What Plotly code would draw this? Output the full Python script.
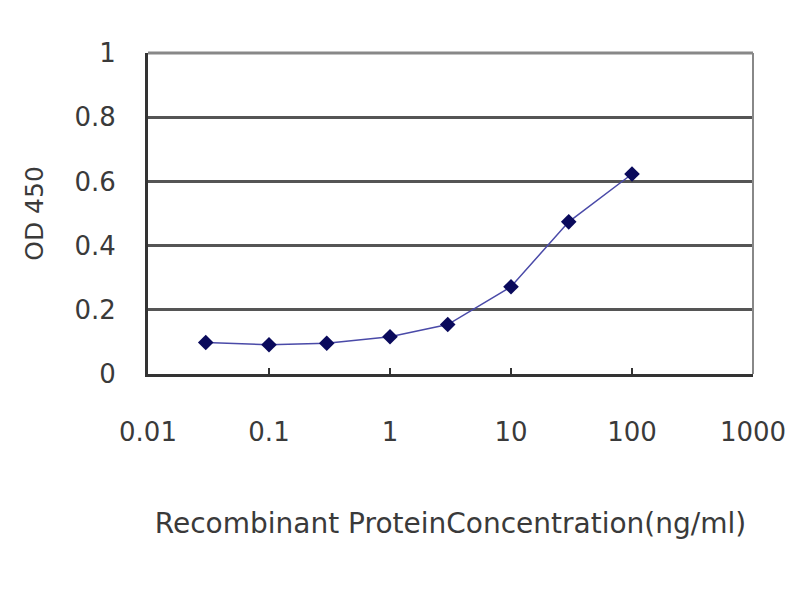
import plotly.graph_objects as go

concentration = [0.03, 0.1, 0.3, 1, 3, 10, 30, 100]
od450 = [0.098, 0.091, 0.096, 0.116, 0.154, 0.272, 0.474, 0.623]
x_ticks = [0.01, 0.1, 1, 10, 100, 1000]
x_tick_labels = ["0.01", "0.1", "1", "10", "100", "1000"]
y_ticks = [0, 0.2, 0.4, 0.6, 0.8, 1]
y_tick_labels = ["0", "0.2", "0.4", "0.6", "0.8", "1"]

fig = go.Figure()
fig.add_trace(go.Scatter(
    x=concentration, y=od450, mode="lines+markers",
    line=dict(color="#4a4aa8", width=1.5),
    marker=dict(symbol="diamond", size=12, color="#0a0a5c"),
    showlegend=False,
))

font = "DejaVu Sans, Liberation Sans, sans-serif"
fig.update_layout(
    width=800, height=600,
    margin=dict(l=140, r=55, t=45, b=234),
    paper_bgcolor="white", plot_bgcolor="white",
    font=dict(family=font, color="#3a3a3a"),
    xaxis=dict(
        type="log", range=[-2, 3],
        tickvals=x_ticks, ticktext=x_tick_labels,
        ticks="inside", ticklen=6, tickwidth=2, tickcolor="#333333",
        ticklabelstandoff=33,
        showgrid=False, zeroline=False,
        showline=True, linecolor="#333333", linewidth=3,
        tickfont=dict(size=26, color="#3a3a3a"),
        title=dict(text="Recombinant ProteinConcentration(ng/ml)",
                   font=dict(size=28, color="#3a3a3a"), standoff=68),
    ),
    yaxis=dict(
        range=[0, 1],
        tickvals=y_ticks, ticktext=y_tick_labels,
        ticks="", ticklabelstandoff=24,
        showgrid=True, gridcolor="#555555", gridwidth=3,
        zeroline=False,
        showline=True, linecolor="#333333", linewidth=3,
        tickfont=dict(size=26, color="#3a3a3a"),
        title=dict(text="OD 450", font=dict(size=25, color="#3a3a3a"), standoff=24),
    ),
    shapes=[
        dict(type="line", xref="paper", yref="paper", x0=1, x1=1, y0=0, y1=1,
             line=dict(color="#888888", width=2)),
        dict(type="line", xref="paper", yref="paper", x0=0, x1=1, y0=1, y1=1,
             line=dict(color="#888888", width=3)),
    ],
)

fig.write_html("out.html")
